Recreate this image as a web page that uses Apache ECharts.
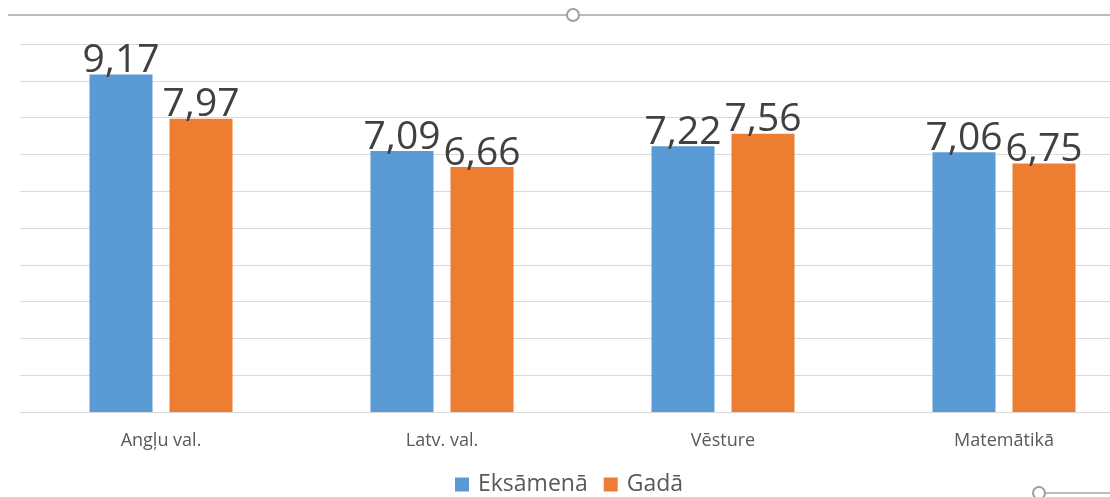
<!DOCTYPE html>
<html>
<head>
<meta charset="utf-8">
<script src="https://cdn.jsdelivr.net/npm/echarts@6/dist/echarts.min.js"></script>
<style>
  html, body { margin: 0; padding: 0; background: #fff; }
  #chart { width: 1110px; height: 497px; }
</style>
</head>
<body>
<div id="chart"></div>
<script>
const categories = ["Angļu val.", "Latv. val.", "Vēsture", "Matemātikā"];
const examValues = [9.17, 7.09, 7.22, 7.06];
const yearValues = [7.97, 6.66, 7.56, 6.75];
const seriesNames = ["Eksāmenā", "Gadā"];

const font = "'Open Sans', 'Noto Sans', sans-serif";
const chart = echarts.init(document.getElementById("chart"));

// etiķetes ar komatu
const commaLabel = {
  show: true,
  position: "top",
  distance: -6,
  fontSize: 39,
  fontFamily: font,
  color: "#404040",
  formatter: p => p.value.toFixed(2).replace(".", ",")
};

const option = {
  animation: false,
  grid: { left: 20.5, right: -34.5, top: 44, bottom: 85, outerBoundsMode: "none" },
  legend: {
    data: seriesNames,
    bottom: -4,
    left: 450,
    itemWidth: 14,
    itemHeight: 14,
    itemGap: 16,
    icon: "rect",
    textStyle: { fontSize: 23, fontFamily: font, color: "#595959", padding: [0, 0, 0, 4] }
  },
  xAxis: {
    type: "category",
    data: categories,
    axisLine: { lineStyle: { color: "#d9d9d9" } },
    axisTick: { show: false },
    axisLabel: { fontSize: 18, fontFamily: font, color: "#595959", margin: 20 }
  },
  yAxis: {
    type: "value",
    min: 0,
    max: 10,
    interval: 1,
    axisLabel: { show: false },
    axisLine: { show: false },
    splitLine: { lineStyle: { color: "#d9d9d9" } }
  },
  series: [
    {
      name: seriesNames[0],
      type: "bar",
      barWidth: 63,
      barGap: "27%",
      itemStyle: { color: "#5b9bd5" },
      label: commaLabel,
      data: examValues
    },
    {
      name: seriesNames[1],
      type: "bar",
      barWidth: 63,
      itemStyle: { color: "#ed7d31" },
      label: commaLabel,
      data: yearValues
    }
  ],
  graphic: [
    { type: "line", shape: { x1: 8, y1: 15, x2: 1110, y2: 15 }, style: { stroke: "#a6a6a6", lineWidth: 1.5 }, z: 1 },
    { type: "circle", shape: { cx: 573, cy: 15, r: 6 }, style: { fill: "#fff", stroke: "#a0a0a0", lineWidth: 2 }, z: 2 },
    { type: "line", shape: { x1: 1045, y1: 493, x2: 1110, y2: 493 }, style: { stroke: "#a6a6a6", lineWidth: 1.5 }, z: 1 },
    { type: "circle", shape: { cx: 1039, cy: 493, r: 6 }, style: { fill: "#fff", stroke: "#a0a0a0", lineWidth: 2 }, z: 2 }
  ]
};
chart.setOption(option);
</script>
</body>
</html>
